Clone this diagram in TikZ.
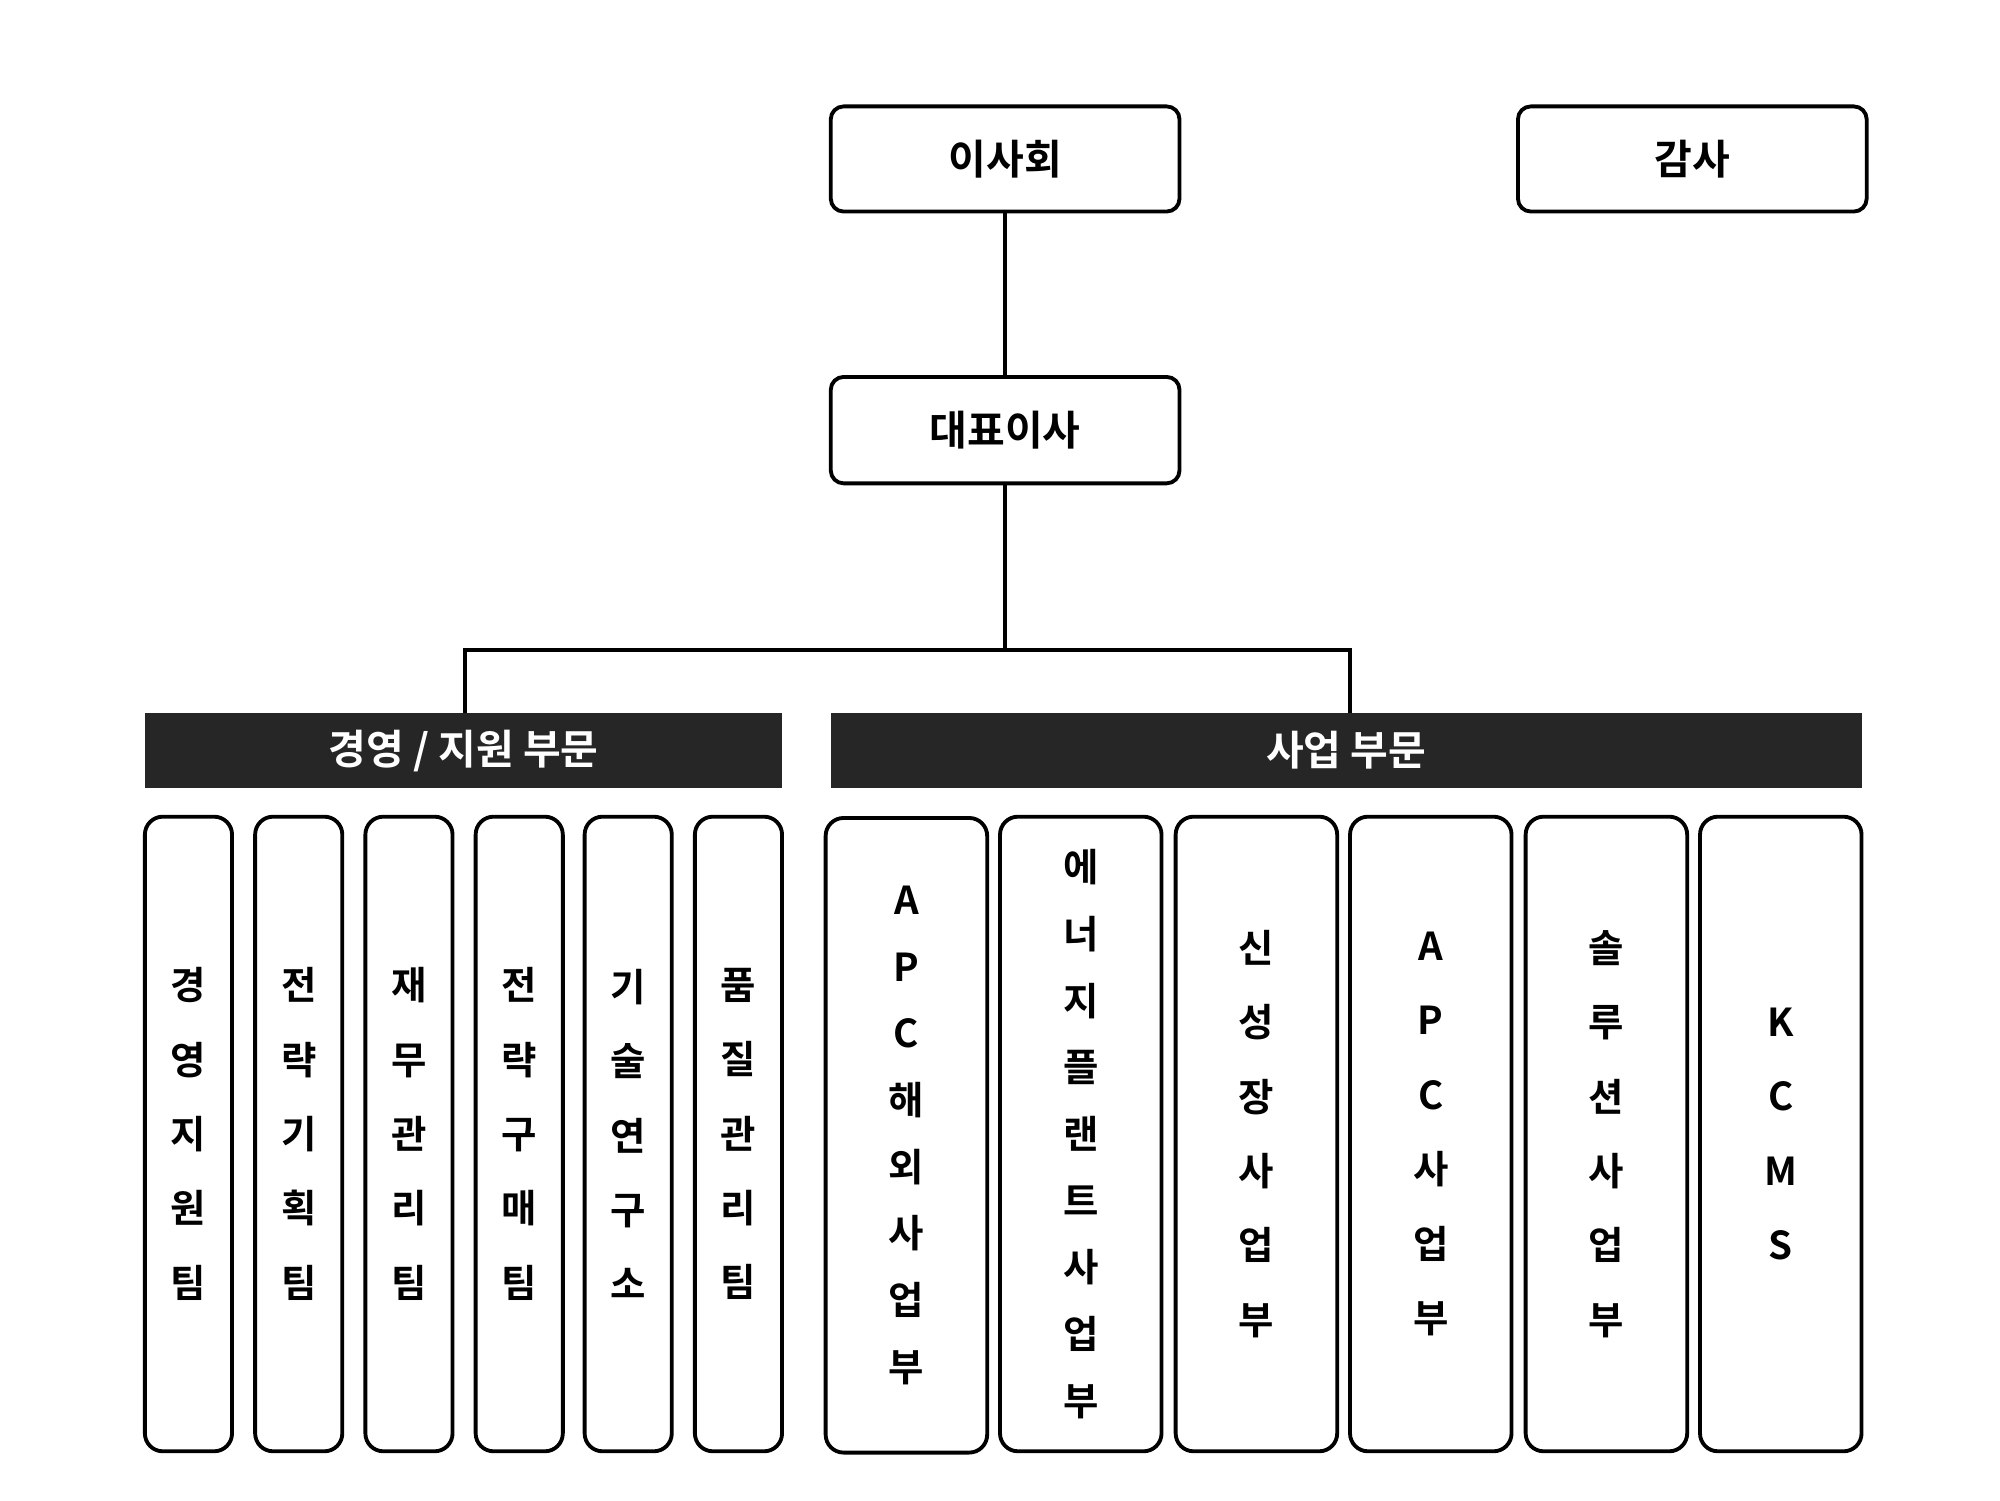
\documentclass[tikz,border=0pt]{standalone}
\usepackage{fontspec}
\setmainfont{Noto Sans CJK KR}[BoldFont={Noto Sans CJK KR Bold}]
\begin{document}
\begin{tikzpicture}[x=1pt,y=-1pt,
  box/.style={draw,line width=3pt,rounded corners=10pt,font=\bfseries\fontsize{32}{36}\selectfont,inner sep=0pt},
  bar/.style={fill={rgb,255:red,38;green,38;blue,38},text=white,font=\bfseries\fontsize{32}{36}\selectfont,inner sep=0pt},
  col/.style={draw,line width=3pt,rounded corners=14pt,align=center,inner sep=0pt,minimum height=495pt},
  conn/.style={line width=3pt}]
\useasboundingbox (0,0) rectangle (1560,1170);
\node[box,minimum width=272pt,minimum height=82pt] (board) at (784,124) {이사회};
\node[box,minimum width=272pt,minimum height=82pt] (audit) at (1320,124) {감사};
\node[box,minimum width=272pt,minimum height=83pt] (ceo) at (784,335.5) {대표이사};
\node[bar,minimum width=497pt,minimum height=59pt] (mgmt) at (361.5,585.5) {경영 / 지원 부문};
\node[bar,minimum width=804pt,minimum height=59pt] (biz) at (1050,585.5) {사업 부문};
\coordinate (j) at (784,507);
\draw[conn] (board) -- (ceo);
\draw[conn] (ceo) -- (j);
\draw[conn] (mgmt.north -| 363,0) |- (j) -| (biz.north -| 1053,0);
\foreach \x/\t [count=\i] in {147/경\\영\\지\\원\\팀, 233/전\\략\\기\\획\\팀, 319/재\\무\\관\\리\\팀, 405/전\\략\\구\\매\\팀, 490/기\\술\\연\\구\\소, 576/품\\질\\관\\리\\팀}
  \node[col,minimum width=68pt,font=\bfseries\fontsize{30}{58}\selectfont] (l\i) at (\x,884.5) {\t};
\node[col,minimum width=126pt,font=\bfseries\fontsize{30}{52}\selectfont] (r1) at (707,885.5) {A\\P\\C\\해\\외\\사\\업\\부};
\node[col,minimum width=126pt,font=\bfseries\fontsize{30}{52}\selectfont] (r2) at (843,884.5) {에\\너\\지\\플\\랜\\트\\사\\업\\부};
\node[col,minimum width=126pt,font=\bfseries\fontsize{30}{58}\selectfont] (r3) at (980,884.5) {신\\성\\장\\사\\업\\부};
\node[col,minimum width=126pt,font=\bfseries\fontsize{30}{58}\selectfont] (r4) at (1116,884.5) {A\\P\\C\\사\\업\\부};
\node[col,minimum width=126pt,font=\bfseries\fontsize{30}{58}\selectfont] (r5) at (1253,884.5) {솔\\루\\션\\사\\업\\부};
\node[col,minimum width=126pt,font=\bfseries\fontsize{30}{58}\selectfont] (r6) at (1389,884.5) {K\\C\\M\\S};
\end{tikzpicture}
\end{document}
